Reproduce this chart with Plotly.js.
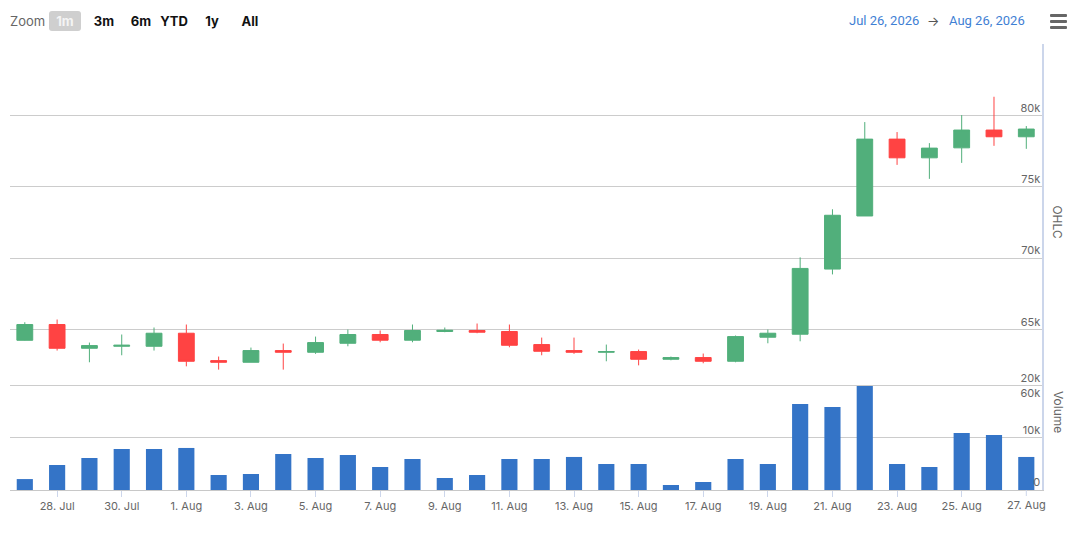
<!DOCTYPE html>
<html>
<head>
<meta charset="utf-8">
<script src="https://cdn.plot.ly/plotly-3.0.1.min.js"></script>
<style>
  html, body { margin:0; padding:0; background:#fff; }
  #wrap { position:relative; width:1080px; height:534px; overflow:hidden; }
  #chart { position:absolute; left:0; top:0; width:1080px; height:534px; }
  .tb { position:absolute; font-family:Inter, "Noto Sans", sans-serif; font-size:13px; line-height:20px; }
  .zl { color:#666; left:10px; top:11px; }
  .btn { font-weight:700; color:#111; top:11px; text-align:center; }
  .sel { background:#cfcfcf; color:#f4f4f4; border-radius:3px; }
  .rng { color:#3f7fd4; top:11px; font-family:Roboto, "Noto Sans", sans-serif; }
  .arr { color:#555; top:11px; }
  .hb { position:absolute; left:1050px; width:17px; height:3px; background:#666; border-radius:1px; }
</style>
</head>
<body>
<div id="wrap">
  <div id="chart"></div>
  <div class="tb zl">Zoom</div>
  <div class="tb btn sel" style="left:49px;width:32px;">1m</div>
  <div class="tb btn" style="left:91px;width:26px;">3m</div>
  <div class="tb btn" style="left:128px;width:26px;">6m</div>
  <div class="tb btn" style="left:159px;width:30px;">YTD</div>
  <div class="tb btn" style="left:200px;width:24px;">1y</div>
  <div class="tb btn" style="left:237px;width:26px;">All</div>
  <div class="tb rng" style="left:849px;">Jul 26, 2026</div>
  <div class="tb arr" style="left:927px;">→</div>
  <div class="tb rng" style="left:949px;">Aug 26, 2026</div>
  <div class="hb" style="top:14px;"></div>
  <div class="hb" style="top:20px;"></div>
  <div class="hb" style="top:26px;"></div>
</div>
<script>
const dates = ['2026-07-27','2026-07-28','2026-07-29','2026-07-30','2026-07-31','2026-08-01','2026-08-02','2026-08-03',
  '2026-08-04','2026-08-05','2026-08-06','2026-08-07','2026-08-08','2026-08-09','2026-08-10','2026-08-11',
  '2026-08-12','2026-08-13','2026-08-14','2026-08-15','2026-08-16','2026-08-17','2026-08-18','2026-08-19',
  '2026-08-20','2026-08-21','2026-08-22','2026-08-23','2026-08-24','2026-08-25','2026-08-26','2026-08-27'];
const openP  = [64240,65345,63680,63820,63820,64735,62815,62700,63520,63400,64030,64645,64245,64855,64925,64855,
  63940,63520,63400,63450,62910,63030,62770,64455,64665,69230,72950,78335,77025,77725,78970,78500];
const highP  = [65505,65695,64080,64645,65135,65345,63100,63730,64010,64500,64995,64925,65345,65135,65415,65345,
  64430,64430,63940,63590,63100,63310,64575,64995,70050,73420,79530,78830,78055,80020,81305,79250];
const lowP   = [64220,63520,62700,63190,63520,62415,62185,62700,62185,63290,63820,64100,64100,64805,64735,63750,
  63190,63290,62770,62485,62840,62630,62700,64030,64170,68855,72950,76530,75550,76670,77865,77655];
const closeP = [65345,63680,63870,63890,64735,62770,62700,63520,63400,64080,64645,64245,64925,64945,64805,63890,
  63470,63400,63450,62910,63030,62770,64500,64735,69275,73000,78335,77025,77705,78970,78500,79040];
const volume = [2100,4800,6150,7880,7880,8080,2880,3080,6920,6150,6730,4420,5960,2310,2880,5960,
  5960,6350,5000,5000,960,1540,5960,5000,16540,15960,20000,5000,4420,10960,10580,6350];
const xTickVals = ['2026-07-28','2026-07-30','2026-08-01','2026-08-03','2026-08-05','2026-08-07','2026-08-09',
  '2026-08-11','2026-08-13','2026-08-15','2026-08-17','2026-08-19','2026-08-21','2026-08-23','2026-08-25','2026-08-27'];
const xTickText = ['28. Jul','30. Jul','1. Aug','3. Aug','5. Aug','7. Aug','9. Aug','11. Aug','13. Aug',
  '15. Aug','17. Aug','19. Aug','21. Aug','23. Aug','25. Aug','27. Aug'];
const ohlcTicks = [60000,65000,70000,75000,80000,85000];
const ohlcTickText = ['60k','65k','70k','75k','80k',''];
const volTicks = [0,10000,20000,30000];
const volTickText = ['0','10k','20k',''];

const green = '#51af7b', red = '#ff4343', blue = '#3474c7';
const DAY = 86400000;

const traces = [
  {
    type:'bar', x:dates, y:volume, xaxis:'x', yaxis:'y2', name:'Volume',
    marker:{color:blue, line:{width:0}}, width:0.5*DAY
  },
  {
    type:'candlestick', x:dates, open:openP, high:highP, low:lowP, close:closeP,
    xaxis:'x', yaxis:'y', name:'OHLC', whiskerwidth:0,
    increasing:{line:{color:green,width:1}, fillcolor:green},
    decreasing:{line:{color:red,width:1}, fillcolor:red},
    hoverinfo:'x+y'
  }
];

const font = {family:'Inter, "Noto Sans", sans-serif', size:11, color:'#666'};

// Plotly hides the last x tick label next to the inside y labels; re-add it as an annotation.
const lastIdx = xTickVals.length - 1;
const layout = {
  width:1080, height:534,
  margin:{l:10, r:38, t:44, b:44, pad:0},
  paper_bgcolor:'#fff', plot_bgcolor:'rgba(0,0,0,0)',
  showlegend:false,
  font:font,
  xaxis:{
    type:'date', range:['2026-07-26 13:00','2026-08-27 11:40'],
    rangeslider:{visible:false},
    anchor:'y2',
    tickmode:'array', tickvals:xTickVals, ticktext:xTickText,
    ticks:'outside', ticklen:6, tickcolor:'#ccd6eb', tickwidth:1,
    ticklabeloverflow:'allow',
    showgrid:false, showline:true, linecolor:'#c8c8c8', linewidth:1,
    tickfont:font, zeroline:false, fixedrange:true
  },
  yaxis:{
    domain:[0.2,1], side:'right', range:[60000,85000],
    tickvals:ohlcTicks, ticktext:ohlcTickText,
    ticklabelposition:'inside top',
    showgrid:true, gridcolor:'#cccccc', gridwidth:1,
    showline:true, linecolor:'#ccd6eb', linewidth:2,
    ticks:'', tickfont:font, zeroline:false, fixedrange:true
  },
  yaxis2:{
    domain:[0,0.35], side:'right', range:[0,30000],
    tickvals:volTicks, ticktext:volTickText,
    ticklabelposition:'inside top',
    showgrid:true, gridcolor:'#cccccc', gridwidth:1,
    showline:true, linecolor:'#ccd6eb', linewidth:2,
    ticks:'', tickfont:font, zeroline:false, fixedrange:true
  },
  shapes:[
    {type:'line', xref:'x', yref:'paper', ysizemode:'pixel', yanchor:0,
     x0:xTickVals[lastIdx], x1:xTickVals[lastIdx], y0:0, y1:-6,
     line:{color:'#ccd6eb', width:1}}
  ],
  annotations:[
    {text:xTickText[lastIdx], xref:'x', yref:'paper', x:xTickVals[lastIdx], y:0, yshift:-15,
     xanchor:'center', yanchor:'middle', showarrow:false, font:font},
    {text:'OHLC', xref:'paper', yref:'paper', x:1, y:0.6, xshift:16, textangle:90,
     showarrow:false, font:{family:font.family, size:12, color:'#666'}, yanchor:'middle', xanchor:'center'},
    {text:'Volume', xref:'paper', yref:'paper', x:1, y:0.175, xshift:16, textangle:90,
     showarrow:false, font:{family:font.family, size:12, color:'#666'}, yanchor:'middle', xanchor:'center'}
  ]
};
Plotly.newPlot('chart', traces, layout, {displayModeBar:false});
</script>
</body>
</html>
